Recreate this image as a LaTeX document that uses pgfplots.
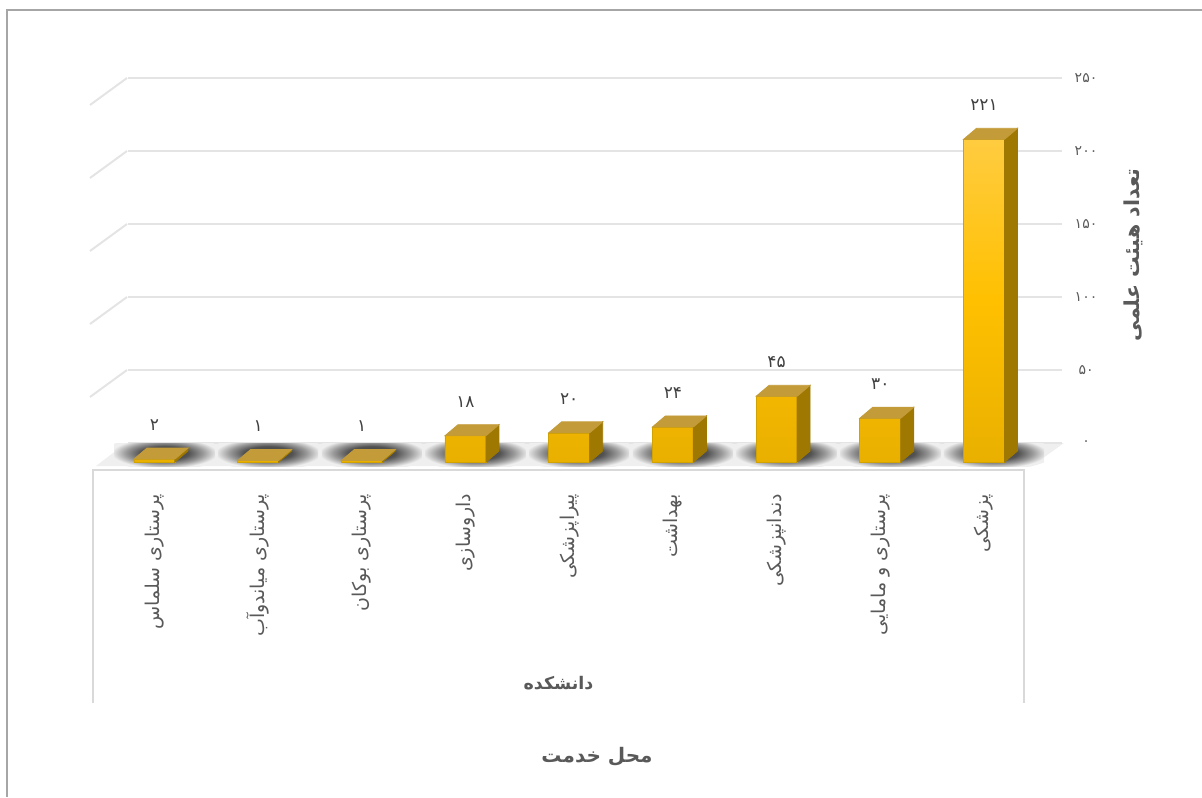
\documentclass[border=0pt]{standalone}
\usepackage{pgfplots}
\pgfplotsset{compat=1.18}
\usepackage{fontspec}
\newfontfamily\arabicfont[Script=Arabic]{DejaVu Sans}
\TeXXeTstate=1
\definecolor{labelgray}{HTML}{595959}
\definecolor{numgray}{HTML}{404040}
\definecolor{gridgray}{HTML}{E4E4E4}
\definecolor{boxgray}{HTML}{D9D9D9}
\definecolor{framegray}{HTML}{A6A6A6}
\definecolor{floorgray}{HTML}{EFEFEF}
\definecolor{goldtop}{HTML}{FFCC40}
\definecolor{goldmid}{HTML}{FFC000}
\definecolor{goldbot}{HTML}{E9B000}
\definecolor{goldlid}{HTML}{C39B38}
\definecolor{goldside}{HTML}{9E7800}
\definecolor{goldedge}{HTML}{D2A200}
\pgfdeclareplotmark{empty}{}
\pgfdeclareradialshading{shadowblob}{\pgfpoint{0bp}{0bp}}{color(0bp)=(black!76); color(10bp)=(black!68); color(16bp)=(black!40); color(22bp)=(floorgray); color(50bp)=(floorgray)}
\pgfplotsset{frontaxis/.style={at={(46.5pt,-231pt)}, anchor=south west, scale only axis,
  width=465.5pt, height=182.5pt,
  xmin=-0.592, xmax=8.386, ymin=0, ymax=250, clip=false,
  axis line style={draw=none}, major tick length=0pt}}
\begin{document}
\begin{tikzpicture}
\begin{scope}[x=0.5pt,y=-0.5pt]
\path[use as bounding box] (0,0) rectangle (1202,797);
\draw[framegray, line width=1pt] (7,797) -- (7,10) -- (1202,10);
\fill[floorgray] (96,466) -- (1032,466) -- (1064,443) -- (126,443) -- cycle;
\foreach \yy in {78,151,224,297,370} \draw[gridgray, line width=1pt] (127,\yy) -- (90,\yy+27);
\draw[boxgray, line width=1.2pt] (93,703) -- (93,470) -- (1024,470) -- (1024,703);
\node[font=\arabicfont\bfseries\fontsize{10}{12}\selectfont, text=labelgray] at (597,757) {\beginR محل خدمت\endR};
\end{scope}

\begin{axis}[at={(64pt,-221.5pt)}, anchor=south west, scale only axis,
  width=467pt, height=182.5pt,
  xmin=0, xmax=1, ymin=0, ymax=250, clip=false,
  axis line style={draw=none}, xtick=\empty, ytick={0,50,100,150,200,250},
  yticklabels={۰,۵۰,۱۰۰,۱۵۰,۲۰۰,۲۵۰}, yticklabel pos=right, major tick length=0pt,
  ymajorgrids, grid style={gridgray, line width=1pt},
  yticklabel style={anchor=center, xshift=12pt, font=\arabicfont\fontsize{7}{8}\selectfont, text=labelgray},
  ylabel={\beginR تعداد هیئت علمی\endR},
  ylabel style={at={(axis description cs:1.076,0.515)}, anchor=center, font=\arabicfont\bfseries\fontsize{10.3}{12}\selectfont, text=labelgray}]
\addplot[draw=none, mark=none] coordinates {(0,0)};
\end{axis}

% floor shadows
\begin{axis}[frontaxis, xtick=\empty, ytick=\empty]
\addplot[scatter, only marks, mark=empty,
  scatter/@pre marker code/.code={\begin{pgfscope}%
    \pgfpathrectangle{\pgfpoint{-20pt}{-2pt}}{\pgfpoint{50pt}{11.5pt}}\pgfusepath{clip}%
    \shade[draw=none, shading=shadowblob] (5pt,4.5pt) ellipse [x radius=30pt, y radius=8.5pt];\end{pgfscope}},
  scatter/@post marker code/.code={}]
  coordinates {(0,0) (1,0) (2,0) (3,0) (4,0) (5,0) (6,0) (7,0) (8,0)};
\end{axis}

\begin{axis}[frontaxis, ytick=\empty, xtick={0,...,8},
  xticklabels={{\beginR پرستاری سلماس\endR},{\beginR پرستاری میاندوآب\endR},{\beginR پرستاری بوکان\endR},{\beginR داروسازی\endR},{\beginR پیراپزشکی\endR},{\beginR بهداشت\endR},{\beginR دندانپزشکی\endR},{\beginR پرستاری و مامایی\endR},{\beginR پزشکی\endR}},
  xticklabel style={rotate=90, anchor=east, font=\arabicfont\fontsize{9.5}{11}\selectfont, text=labelgray, xshift=-12.5pt},
  xlabel={\beginR دانشکده\endR},
  xlabel style={at={(axis description cs:0.5,-0.605)}, anchor=center, font=\arabicfont\bfseries\fontsize{8.7}{10}\selectfont, text=labelgray}]
% front faces
\addplot[ybar, bar width=20.5pt, bar shift=0pt, draw=goldedge, line width=0.3pt,
  top color=goldtop, bottom color=goldbot, middle color=goldmid]
  coordinates {(0,2) (1,1) (2,1) (3,18) (4,20) (5,24) (6,45) (7,30) (8,221)};
% top and side faces
\addplot[scatter, only marks, mark=empty,
  visualization depends on={y \as \rawy},
  scatter/@pre marker code/.code={%
    \pgfmathsetmacro\hh{\rawy*0.73}%
    \fill[goldside] (10.25pt,0pt) -- ({10.25pt},{-\hh pt}) -- ({16.75pt},{-\hh pt+5.5pt}) -- (16.75pt,5.5pt) -- cycle;
    \fill[goldlid] (-10.25pt,0pt) -- (10.25pt,0pt) -- (16.75pt,5.5pt) -- (-3.75pt,5.5pt) -- cycle;},
  scatter/@post marker code/.code={}]
  coordinates {(0,2) (1,1) (2,1) (3,18) (4,20) (5,24) (6,45) (7,30) (8,221)};
% value labels
\addplot[draw=none, mark=none, nodes near coords, point meta=explicit symbolic,
  nodes near coords style={font=\arabicfont\fontsize{8.5}{10}\selectfont, text=numgray, anchor=center, yshift=17pt}]
  coordinates {(0,2) [۲] (1,1) [۱] (2,1) [۱] (3,18) [۱۸] (4,20) [۲۰] (5,24) [۲۴] (6,45) [۴۵] (7,30) [۳۰] (8,221) [۲۲۱]};
\end{axis}
\end{tikzpicture}
\end{document}
